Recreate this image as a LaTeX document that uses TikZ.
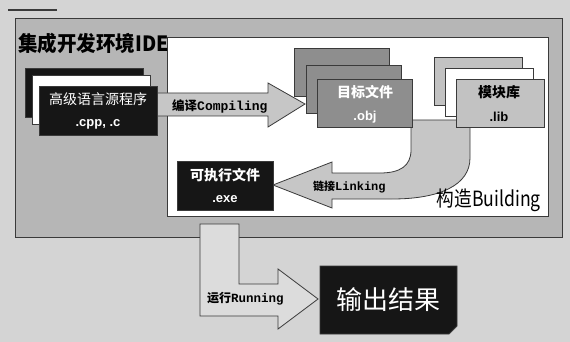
\documentclass[tikz,border=0pt]{standalone}
\usepackage{fontspec}
\newfontfamily\cjk{Noto Sans CJK SC}
\setmonofont{Liberation Mono}
\setsansfont{Liberation Sans}
\definecolor{bgc}{HTML}{D4D4D4}
\definecolor{idec}{HTML}{B6B6B6}
\definecolor{objc}{HTML}{8E8E8E}
\definecolor{libc}{HTML}{C2C2C2}
\definecolor{arrc}{HTML}{C6C6C6}
\definecolor{runc}{HTML}{DCDCDC}
\definecolor{darkc}{HTML}{161616}
\definecolor{linec}{HTML}{3A3A3A}
\tikzset{
  filebox/.style={draw=linec, line width=0.8pt, minimum width=118pt, minimum height=49pt, inner sep=0pt},
  darkbox/.style={filebox, fill=darkc},
  objbox/.style={draw=linec, line width=0.8pt, fill=objc, minimum width=95pt, minimum height=48pt, inner sep=0pt},
  libbox/.style={draw=linec, line width=0.8pt, fill=libc, minimum width=88pt, minimum height=48pt, inner sep=0pt},
  bigarrow/.style={draw=linec, line width=0.8pt},
}
\begin{document}
\begin{tikzpicture}[x=1pt,y=-1pt]
\useasboundingbox (0,0) rectangle (570,342);
\fill[bgc] (0,0) rectangle (570,342);
\draw[linec, line width=1.5pt] (8,10) -- (57,10);
% IDE outer box
\node[draw=linec, line width=0.9pt, fill=idec, minimum width=547pt, minimum height=219pt, inner sep=0pt, anchor=north west] (ide) at (15,18) {};
% inner white build box
\node[draw=linec, line width=0.9pt, fill=white, minimum width=381pt, minimum height=179pt, inner sep=0pt, anchor=north west] (build) at (167,37) {};
\node[anchor=west, inner sep=0pt, xscale=0.93, font=\cjk\bfseries\fontsize{21}{24}\selectfont] (title) at (18,44) {集成开发环境IDE};
% running arrow
\draw[bigarrow, fill=runc] (200,224) -- (239,224) -- (239,284) -- (278,284) -- (278,269) -- (318,299) -- (278,329) -- (278,316) -- (200,316) -- cycle;
\node[anchor=west, inner sep=0pt] (runlbl) at (207,299) {{\cjk\bfseries\fontsize{12}{14}\selectfont 运行}{\ttfamily\bfseries\fontsize{12.5}{14}\selectfont Running}};
% output box
\draw[linec, line width=0.8pt, fill=darkc] (320,266) -- (457,266) -- (457,326) -- (449,334) -- (320,334) -- cycle;
\node[text=white, inner sep=0pt, font=\cjk\fontsize{26}{28}\selectfont] (out) at (388,300) {输出结果};
% compiling arrow
\draw[bigarrow, fill=arrc] (150,93) -- (268,93) -- (268,83) -- (305,104) -- (268,127) -- (268,116) -- (150,116) -- cycle;
\node[anchor=west, inner sep=0pt] (complbl) at (172,106) {{\cjk\bfseries\fontsize{12.5}{14}\selectfont 编译}{\ttfamily\bfseries\fontsize{13}{14}\selectfont Compiling}};
% linking arrow
\draw[bigarrow, fill=arrc] (411,120) -- (411,150) .. controls (411,166) and (400,173) .. (380,173) -- (332,173) -- (332,162) -- (273,185) -- (332,208) -- (332,199) -- (392,199) .. controls (440,199) and (470,185) .. (470,158) -- (470,120) -- cycle;
\node[anchor=west, inner sep=0pt] (linklbl) at (313,187) {{\cjk\bfseries\fontsize{11}{14}\selectfont 链接}{\ttfamily\bfseries\fontsize{12}{14}\selectfont Linking}};
\node[anchor=base east, inner sep=0pt, xscale=0.84, font=\cjk\fontsize{21}{24}\selectfont] (building) at (541,206) {构造Building};
% source stack
\node[darkbox, anchor=north west] (src3) at (25,68) {};
\node[filebox, fill=white, anchor=north west] (src2) at (32,75) {};
\node[darkbox, anchor=north west] (src1) at (39,86) {};
\node[text=white, inner sep=0pt, font=\cjk\fontsize{14}{16}\selectfont] (srct) at (98,99) {高级语言源程序};
\node[text=white, inner sep=0pt, font=\sffamily\bfseries\fontsize{13}{15}\selectfont] (srce) at (98,124) {.cpp, .c};
% obj stack
\node[objbox, anchor=north west] (obj3) at (294,48) {};
\node[objbox, anchor=north west] (obj2) at (306,65) {};
\node[objbox, anchor=north west] (obj1) at (317,79) {};
\node[text=white, inner sep=0pt, font=\cjk\bfseries\fontsize{14}{16}\selectfont] (objt) at (365,92) {目标文件};
\node[text=white, inner sep=0pt, font=\sffamily\bfseries\fontsize{13}{15}\selectfont] (obje) at (365,117) {.obj};
% lib stack
\node[libbox, anchor=north west] (lib3) at (434,57) {};
\node[libbox, fill=white, anchor=north west] (lib2) at (445,68) {};
\node[libbox, anchor=north west] (lib1) at (456,79) {};
\node[inner sep=0pt, font=\cjk\bfseries\fontsize{14}{16}\selectfont] (libt) at (499,92) {模块库};
\node[inner sep=0pt, font=\sffamily\bfseries\fontsize{13}{15}\selectfont] (libe) at (499,117) {.lib};
% exe box
\node[draw=linec, line width=0.8pt, fill=darkc, minimum width=96pt, minimum height=49pt, inner sep=0pt, anchor=north west] (exe) at (177,161) {};
\node[text=white, inner sep=0pt, font=\cjk\bfseries\fontsize{14}{16}\selectfont] (exet) at (225,175) {可执行文件};
\node[text=white, inner sep=0pt, font=\sffamily\bfseries\fontsize{13}{15}\selectfont] (exee) at (225,199) {.exe};
\end{tikzpicture}
\end{document}
